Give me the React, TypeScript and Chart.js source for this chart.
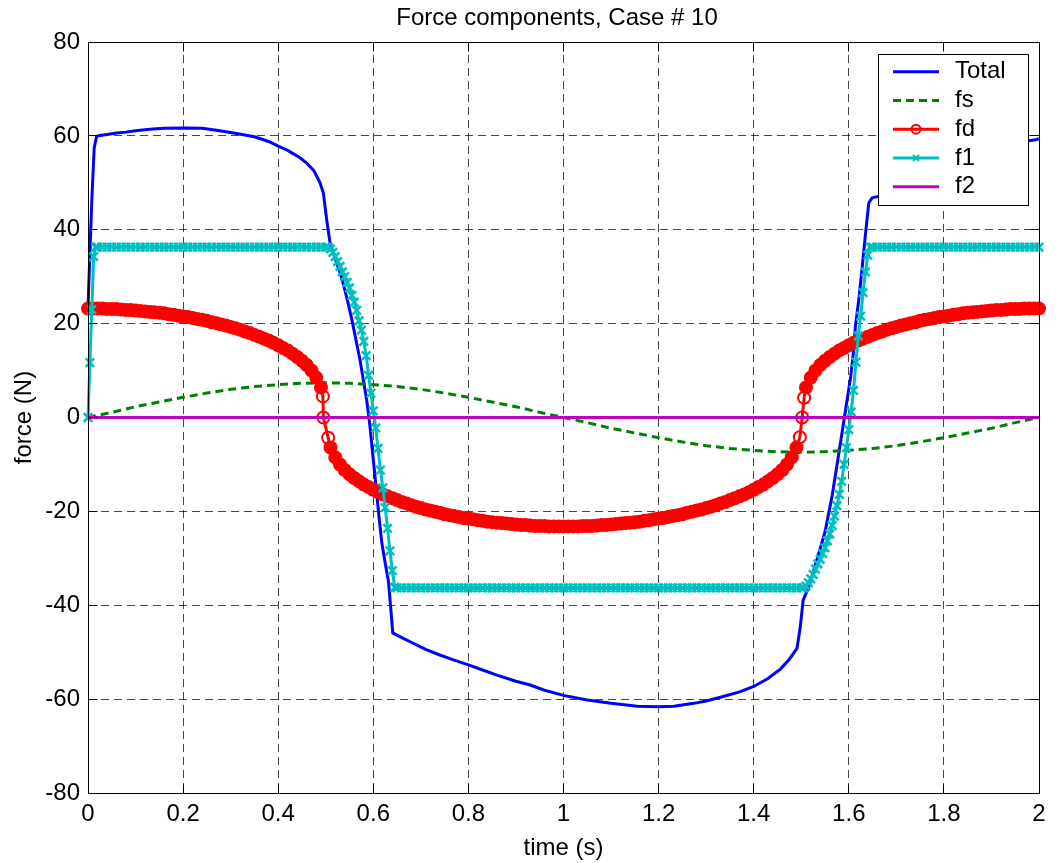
import React, { useEffect, useRef } from "react";
import { Chart, registerables } from "chart.js";

Chart.register(...registerables);

const FONT = '"Liberation Sans", Arial, Helvetica, sans-serif';
const WIDTH = 1056;
const HEIGHT = 863;

const titleText = "Force components, Case # 10";
const xAxisTitle = "time (s)";
const yAxisTitle = "force (N)";

const xTickValues = [0, 0.2, 0.4, 0.6, 0.8, 1, 1.2, 1.4, 1.6, 1.8, 2];
const xTickLabels = ["0", "0.2", "0.4", "0.6", "0.8", "1", "1.2", "1.4", "1.6", "1.8", "2"];
const yTickValues = [-80, -60, -40, -20, 0, 20, 40, 60, 80];
const yTickLabels = ["-80", "-60", "-40", "-20", "0", "20", "40", "60", "80"];

const seriesNames = ["Total", "fs", "fd", "f1", "f2"];

// Total force
const totalT = [
  0, 0.004, 0.008, 0.013, 0.018, 0.025, 0.04, 0.06, 0.08, 0.1,
  0.13, 0.16, 0.2, 0.24, 0.27, 0.3, 0.33, 0.35, 0.38, 0.4,
  0.42, 0.445, 0.46, 0.475, 0.488, 0.495, 0.502, 0.509, 0.52, 0.533,
  0.545, 0.555, 0.565, 0.572, 0.58, 0.586, 0.593, 0.6, 0.607, 0.612,
  0.618, 0.625, 0.632, 0.636, 0.641, 0.66, 0.684, 0.71, 0.74, 0.77,
  0.8, 0.83, 0.86, 0.9, 0.93, 0.96, 1, 1.05, 1.1, 1.155,
  1.2, 1.232, 1.274, 1.3, 1.33, 1.372, 1.4, 1.43, 1.456, 1.475,
  1.491, 1.498, 1.504, 1.516, 1.533, 1.55, 1.565, 1.576, 1.584, 1.591,
  1.604, 1.61, 1.614, 1.621, 1.628, 1.635, 1.642, 1.649, 1.663, 1.684,
  1.71, 1.74, 1.77, 1.8, 1.83, 1.86, 1.9, 1.93, 1.96, 1.975,
  1.99, 2,
];
const totalV = [
  23.4, 35.0, 46.2, 57.4, 59.9, 60.1, 60.3, 60.6, 60.8, 61.1,
  61.4, 61.6, 61.7, 61.6, 61.2, 60.7, 60.2, 59.8, 58.8, 57.8,
  56.9, 55.4, 54.2, 52.6, 50.0, 47.8, 42.1, 37.2, 33.8, 30.0,
  25.2, 20.8, 15.8, 12.3, 7.4, 3.8, -1.9, -9.0, -16.0, -21.2,
  -26.8, -31.0, -35.0, -39.8, -45.9, -46.9, -48.1, -49.4, -50.6, -51.7,
  -52.7, -53.8, -54.9, -56.2, -57.0, -58.1, -59.2, -60.2, -60.9, -61.5,
  -61.6, -61.5, -60.9, -60.4, -59.6, -58.4, -57.3, -55.6, -53.6, -51.5,
  -49.2, -44.6, -38.9, -36.0, -30.3, -24.4, -16.6, -9.6, -4.4, 0.2,
  8.7, 14.2, 19.5, 25.1, 31.8, 39.0, 45.7, 46.8, 47.1, 48.1,
  49.4, 50.6, 51.7, 52.7, 53.8, 54.9, 56.2, 57.0, 58.1, 58.9,
  59.1, 59.4,
];

// Spring force fs
const fsT = [
  0, 0.05, 0.1, 0.15, 0.2, 0.25, 0.3, 0.35, 0.4, 0.45,
  0.5, 0.55, 0.6, 0.65, 0.7, 0.75, 0.8, 0.85, 0.9, 0.95,
  1, 1.05, 1.1, 1.15, 1.2, 1.25, 1.3, 1.35, 1.4, 1.45,
  1.5, 1.55, 1.6, 1.65, 1.7, 1.75, 1.8, 1.85, 1.9, 1.95,
  2,
];
const fsV = [
  0, 1.1, 2.3, 3.3, 4.3, 5.2, 6.0, 6.6, 7.0, 7.3,
  7.4, 7.3, 7.0, 6.6, 6.0, 5.2, 4.3, 3.3, 2.3, 1.1,
  0, -1.1, -2.3, -3.3, -4.3, -5.2, -6.0, -6.6, -7.0, -7.3,
  -7.4, -7.3, -7.0, -6.6, -6.0, -5.2, -4.3, -3.3, -2.3, -1.1,
  0,
];

// Damping force fd
const fdT = [
  0, 0.01, 0.02, 0.03, 0.04, 0.05, 0.06, 0.07, 0.08, 0.09,
  0.1, 0.11, 0.12, 0.13, 0.14, 0.15, 0.16, 0.17, 0.18, 0.19,
  0.2, 0.21, 0.22, 0.23, 0.24, 0.25, 0.26, 0.27, 0.28, 0.29,
  0.3, 0.31, 0.32, 0.33, 0.34, 0.35, 0.36, 0.37, 0.38, 0.39,
  0.4, 0.41, 0.42, 0.43, 0.44, 0.45, 0.46, 0.47, 0.48, 0.49,
  0.494, 0.495, 0.505,
  0.51, 0.52, 0.53, 0.54, 0.55, 0.56, 0.57, 0.58, 0.59,
  0.6, 0.61, 0.62, 0.63, 0.64, 0.65, 0.66, 0.67, 0.68, 0.69,
  0.7, 0.71, 0.72, 0.73, 0.74, 0.75, 0.76, 0.77, 0.78, 0.79,
  0.8, 0.81, 0.82, 0.83, 0.84, 0.85, 0.86, 0.87, 0.88, 0.89,
  0.9, 0.91, 0.92, 0.93, 0.94, 0.95, 0.96, 0.97, 0.98, 0.99,
  1, 1.01, 1.02, 1.03, 1.04, 1.05, 1.06, 1.07, 1.08, 1.09,
  1.1, 1.11, 1.12, 1.13, 1.14, 1.15, 1.16, 1.17, 1.18, 1.19,
  1.2, 1.21, 1.22, 1.23, 1.24, 1.25, 1.26, 1.27, 1.28, 1.29,
  1.3, 1.31, 1.32, 1.33, 1.34, 1.35, 1.36, 1.37, 1.38, 1.39,
  1.4, 1.41, 1.42, 1.43, 1.44, 1.45, 1.46, 1.47, 1.48, 1.49,
  1.497, 1.502, 1.506,
  1.51, 1.52, 1.53, 1.54, 1.55, 1.56, 1.57, 1.58, 1.59,
  1.6, 1.61, 1.62, 1.63, 1.64, 1.65, 1.66, 1.67, 1.68, 1.69,
  1.7, 1.71, 1.72, 1.73, 1.74, 1.75, 1.76, 1.77, 1.78, 1.79,
  1.8, 1.81, 1.82, 1.83, 1.84, 1.85, 1.86, 1.87, 1.88, 1.89,
  1.9, 1.91, 1.92, 1.93, 1.94, 1.95, 1.96, 1.97, 1.98, 1.99,
  2,
];
const fdV = [
  23.2, 23.2, 23.2, 23.2, 23.1, 23.1, 23.1, 23.0, 22.9, 22.9,
  22.8, 22.7, 22.6, 22.5, 22.4, 22.3, 22.2, 22.0, 21.9, 21.7,
  21.5, 21.4, 21.2, 21.0, 20.8, 20.6, 20.3, 20.1, 19.8, 19.6,
  19.3, 19.0, 18.7, 18.3, 18.0, 17.6, 17.2, 16.8, 16.4, 15.9,
  15.4, 14.8, 14.3, 13.6, 12.9, 12.1, 11.2, 10.0, 8.5, 6.4,
  4.5, 0.0, -4.3,
  -6.4, -8.5, -10.0, -11.2, -12.1, -12.9, -13.6, -14.3, -14.8,
  -15.4, -15.9, -16.4, -16.8, -17.2, -17.6, -18.0, -18.3, -18.7, -19.0,
  -19.3, -19.6, -19.8, -20.1, -20.3, -20.6, -20.8, -21.0, -21.2, -21.4,
  -21.5, -21.7, -21.9, -22.0, -22.2, -22.3, -22.4, -22.5, -22.6, -22.7,
  -22.8, -22.9, -22.9, -23.0, -23.1, -23.1, -23.1, -23.2, -23.2, -23.2,
  -23.2, -23.2, -23.2, -23.2, -23.1, -23.1, -23.1, -23.0, -22.9, -22.9,
  -22.8, -22.7, -22.6, -22.5, -22.4, -22.3, -22.2, -22.0, -21.9, -21.7,
  -21.5, -21.4, -21.2, -21.0, -20.8, -20.6, -20.3, -20.1, -19.8, -19.6,
  -19.3, -19.0, -18.7, -18.3, -18.0, -17.6, -17.2, -16.8, -16.4, -15.9,
  -15.4, -14.8, -14.3, -13.6, -12.9, -12.1, -11.2, -10.0, -8.5, -6.4,
  -4.2, 0.0, 4.2,
  6.4, 8.5, 10.0, 11.2, 12.1, 12.9, 13.6, 14.3, 14.8,
  15.4, 15.9, 16.4, 16.8, 17.2, 17.6, 18.0, 18.3, 18.7, 19.0,
  19.3, 19.6, 19.8, 20.1, 20.3, 20.6, 20.8, 21.0, 21.2, 21.4,
  21.5, 21.7, 21.9, 22.0, 22.2, 22.3, 22.4, 22.5, 22.6, 22.7,
  22.8, 22.9, 22.9, 23.0, 23.1, 23.1, 23.1, 23.2, 23.2, 23.2,
  23.2,
];

// Component f1
const f1T = [
  0, 0.004, 0.008, 0.012, 0.016,
  0.02, 0.03, 0.04, 0.05, 0.06, 0.07, 0.08, 0.09,
  0.1, 0.11, 0.12, 0.13, 0.14, 0.15, 0.16, 0.17, 0.18, 0.19,
  0.2, 0.21, 0.22, 0.23, 0.24, 0.25, 0.26, 0.27, 0.28, 0.29,
  0.3, 0.31, 0.32, 0.33, 0.34, 0.35, 0.36, 0.37, 0.38, 0.39,
  0.4, 0.41, 0.42, 0.43, 0.44, 0.45, 0.46, 0.47, 0.48, 0.49,
  0.5, 0.505,
  0.51, 0.515, 0.52, 0.525, 0.53, 0.535, 0.54, 0.545, 0.55, 0.555,
  0.56, 0.565, 0.57, 0.575, 0.58, 0.585, 0.59, 0.595, 0.6, 0.605,
  0.61, 0.615, 0.62, 0.625, 0.63, 0.635, 0.64, 0.645,
  0.65, 0.66, 0.67, 0.68, 0.69,
  0.7, 0.71, 0.72, 0.73, 0.74, 0.75, 0.76, 0.77, 0.78, 0.79,
  0.8, 0.81, 0.82, 0.83, 0.84, 0.85, 0.86, 0.87, 0.88, 0.89,
  0.9, 0.91, 0.92, 0.93, 0.94, 0.95, 0.96, 0.97, 0.98, 0.99,
  1, 1.01, 1.02, 1.03, 1.04, 1.05, 1.06, 1.07, 1.08, 1.09,
  1.1, 1.11, 1.12, 1.13, 1.14, 1.15, 1.16, 1.17, 1.18, 1.19,
  1.2, 1.21, 1.22, 1.23, 1.24, 1.25, 1.26, 1.27, 1.28, 1.29,
  1.3, 1.31, 1.32, 1.33, 1.34, 1.35, 1.36, 1.37, 1.38, 1.39,
  1.4, 1.41, 1.42, 1.43, 1.44, 1.45, 1.46, 1.47, 1.48, 1.49,
  1.5, 1.505,
  1.51, 1.515, 1.52, 1.525, 1.53, 1.535, 1.54, 1.545, 1.55, 1.555,
  1.56, 1.565, 1.57, 1.575, 1.58, 1.585, 1.59, 1.595, 1.6, 1.605,
  1.61, 1.615, 1.62, 1.625, 1.63, 1.635, 1.64, 1.645,
  1.65, 1.66, 1.67, 1.68, 1.69,
  1.7, 1.71, 1.72, 1.73, 1.74, 1.75, 1.76, 1.77, 1.78, 1.79,
  1.8, 1.81, 1.82, 1.83, 1.84, 1.85, 1.86, 1.87, 1.88, 1.89,
  1.9, 1.91, 1.92, 1.93, 1.94, 1.95, 1.96, 1.97, 1.98, 1.99,
  2,
];
const f1V = [
  0, 11.7, 23.0, 34.3, 36.3,
  36.3, 36.3, 36.3, 36.3, 36.3, 36.3, 36.3, 36.3,
  36.3, 36.3, 36.3, 36.3, 36.3, 36.3, 36.3, 36.3, 36.3, 36.3,
  36.3, 36.3, 36.3, 36.3, 36.3, 36.3, 36.3, 36.3, 36.3, 36.3,
  36.3, 36.3, 36.3, 36.3, 36.3, 36.3, 36.3, 36.3, 36.3, 36.3,
  36.3, 36.3, 36.3, 36.3, 36.3, 36.3, 36.3, 36.3, 36.3, 36.3,
  36.3, 36.3,
  35.9, 35.2, 34.3, 33.2, 32.2, 31.0, 30.0, 28.8, 27.6, 26.0,
  24.6, 22.8, 20.6, 18.6, 16.2, 13.2, 9.0, 5.2, 1.4, -2.2,
  -6.6, -11.2, -15.0, -19.2, -23.6, -28.4, -32.6, -36.2,
  -36.3, -36.3, -36.3, -36.3, -36.3,
  -36.3, -36.3, -36.3, -36.3, -36.3, -36.3, -36.3, -36.3, -36.3, -36.3,
  -36.3, -36.3, -36.3, -36.3, -36.3, -36.3, -36.3, -36.3, -36.3, -36.3,
  -36.3, -36.3, -36.3, -36.3, -36.3, -36.3, -36.3, -36.3, -36.3, -36.3,
  -36.3, -36.3, -36.3, -36.3, -36.3, -36.3, -36.3, -36.3, -36.3, -36.3,
  -36.3, -36.3, -36.3, -36.3, -36.3, -36.3, -36.3, -36.3, -36.3, -36.3,
  -36.3, -36.3, -36.3, -36.3, -36.3, -36.3, -36.3, -36.3, -36.3, -36.3,
  -36.3, -36.3, -36.3, -36.3, -36.3, -36.3, -36.3, -36.3, -36.3, -36.3,
  -36.3, -36.3, -36.3, -36.3, -36.3, -36.3, -36.3, -36.3, -36.3, -36.3,
  -36.3, -36.3,
  -35.9, -35.2, -34.4, -33.4, -32.3, -31.2, -30.2, -29.0, -27.8, -26.3,
  -24.8, -23.0, -21.0, -18.8, -16.4, -13.6, -10.0, -6.4, -2.6, 1.2,
  5.8, 11.8, 17.4, 21.6, 26.6, 31.0, 34.6, 36.3,
  36.3, 36.3, 36.3, 36.3, 36.3,
  36.3, 36.3, 36.3, 36.3, 36.3, 36.3, 36.3, 36.3, 36.3, 36.3,
  36.3, 36.3, 36.3, 36.3, 36.3, 36.3, 36.3, 36.3, 36.3, 36.3,
  36.3, 36.3, 36.3, 36.3, 36.3, 36.3, 36.3, 36.3, 36.3, 36.3,
  36.3,
];

// Component f2
const f2T = [0, 1, 2];
const f2V = [0, 0, 0];

const COLORS = {
  total: "#0000ff",
  fs: "#008000",
  fd: "#ff0000",
  f1: "#00bfbf",
  f2: "#bf00bf",
};

const toPoints = (t: number[], v: number[]) => t.map((x, i) => ({ x, y: v[i] }));

const alignPx = (p: number) => Math.round(p - 0.5) + 0.5;

const legendEntries = [
  { name: seriesNames[0], color: COLORS.total, dash: [] as number[], marker: "none" },
  { name: seriesNames[1], color: COLORS.fs, dash: [8, 5], marker: "none" },
  { name: seriesNames[2], color: COLORS.fd, dash: [] as number[], marker: "circle" },
  { name: seriesNames[3], color: COLORS.f1, dash: [] as number[], marker: "cross" },
  { name: seriesNames[4], color: COLORS.f2, dash: [] as number[], marker: "none" },
];

const decorations = {
  id: "decorations",
  afterDraw(chart: any) {
    const { ctx, chartArea, scales } = chart;
    const { left, right, top, bottom } = chartArea;
    const xs = scales.x;
    const ys = scales.y;
    const L = alignPx(left);
    const R = alignPx(right);
    const T = alignPx(top);
    const B = alignPx(bottom);
    const tick = 9;

    ctx.save();
    ctx.setLineDash([]);
    ctx.strokeStyle = "#000";
    ctx.lineWidth = 1;

    // axes box
    ctx.strokeRect(L, T, R - L, B - T);

    // inward tick marks on all four sides
    ctx.beginPath();
    for (const v of xTickValues) {
      const px = alignPx(xs.getPixelForValue(v));
      ctx.moveTo(px, B);
      ctx.lineTo(px, B - tick);
      ctx.moveTo(px, T);
      ctx.lineTo(px, T + tick);
    }
    for (const v of yTickValues) {
      const py = alignPx(ys.getPixelForValue(v));
      ctx.moveTo(L, py);
      ctx.lineTo(L + tick, py);
      ctx.moveTo(R, py);
      ctx.lineTo(R - tick, py);
    }
    ctx.stroke();

    // titles
    ctx.fillStyle = "#000";
    ctx.font = `24px ${FONT}`;
    ctx.textAlign = "center";
    ctx.textBaseline = "alphabetic";
    ctx.fillText(titleText, 557, 25);
    ctx.fillText(xAxisTitle, (left + right) / 2, 855);
    ctx.save();
    ctx.translate(31, (top + bottom) / 2);
    ctx.rotate(-Math.PI / 2);
    ctx.fillText(yAxisTitle, 0, 0);
    ctx.restore();

    // legend
    const lx = 878.5;
    const ly = 54.5;
    const lw = 150;
    const lh = 151;
    ctx.fillStyle = "#fff";
    ctx.fillRect(lx, ly, lw, lh);
    ctx.strokeStyle = "#000";
    ctx.lineWidth = 1;
    ctx.strokeRect(lx, ly, lw, lh);

    legendEntries.forEach((entry, i) => {
      const yy = 71.7 + i * 28.75;
      ctx.save();
      ctx.strokeStyle = entry.color;
      ctx.lineWidth = 3;
      ctx.setLineDash(entry.dash);
      ctx.beginPath();
      ctx.moveTo(893, yy);
      ctx.lineTo(939, yy);
      ctx.stroke();
      ctx.setLineDash([]);
      if (entry.marker === "circle") {
        ctx.lineWidth = 2;
        ctx.beginPath();
        ctx.arc(916, yy, 4.5, 0, Math.PI * 2);
        ctx.stroke();
      } else if (entry.marker === "cross") {
        ctx.lineWidth = 2;
        ctx.beginPath();
        ctx.moveTo(913, yy - 3);
        ctx.lineTo(919, yy + 3);
        ctx.moveTo(919, yy - 3);
        ctx.lineTo(913, yy + 3);
        ctx.stroke();
      }
      ctx.restore();
      ctx.fillStyle = "#000";
      ctx.font = `24px ${FONT}`;
      ctx.textAlign = "left";
      ctx.textBaseline = "middle";
      ctx.fillText(entry.name, 955, yy);
    });

    ctx.restore();
  },
};

export default function App() {
  const canvasRef = useRef<HTMLCanvasElement | null>(null);

  useEffect(() => {
    const canvas = canvasRef.current;
    if (!canvas) return;

    const gridColor = "rgba(0,0,0,0.72)";
    const tickFont = { family: FONT, size: 24 };

    const chart = new Chart(canvas, {
      type: "line",
      data: {
        datasets: [
          {
            label: seriesNames[0],
            data: toPoints(totalT, totalV),
            borderColor: COLORS.total,
            borderWidth: 3,
            pointRadius: 0,
            order: 5,
            clip: false,
          },
          {
            label: seriesNames[1],
            data: toPoints(fsT, fsV),
            borderColor: COLORS.fs,
            borderWidth: 3,
            borderDash: [8, 5],
            pointRadius: 0,
            order: 4,
            clip: false,
          },
          {
            label: seriesNames[2],
            data: toPoints(fdT, fdV),
            borderColor: COLORS.fd,
            borderWidth: 3,
            pointStyle: "circle",
            pointRadius: 6,
            pointBorderWidth: 2,
            pointBorderColor: COLORS.fd,
            pointBackgroundColor: (c: any) =>
              c.raw && Math.abs(c.raw.y) < 5 ? "rgba(255,0,0,0)" : COLORS.fd,
            order: 3,
            clip: false,
          },
          {
            label: seriesNames[3],
            data: toPoints(f1T, f1V),
            borderColor: COLORS.f1,
            borderWidth: 3,
            pointStyle: "crossRot",
            pointRadius: 6,
            pointBorderWidth: 2.5,
            pointBorderColor: COLORS.f1,
            order: 2,
            clip: false,
          },
          {
            label: seriesNames[4],
            data: toPoints(f2T, f2V),
            borderColor: COLORS.f2,
            borderWidth: 3,
            pointRadius: 0,
            order: 1,
            clip: false,
          },
        ],
      },
      options: {
        animation: false,
        responsive: false,
        devicePixelRatio: 1,
        events: [],
        layout: { padding: { top: 42, right: 17, left: 0, bottom: 0 } },
        plugins: {
          legend: { display: false },
          title: { display: false },
          tooltip: { enabled: false },
        },
        scales: {
          x: {
            type: "linear",
            min: 0,
            max: 2,
            afterFit: (s: any) => {
              s.height = 70;
            },
            afterBuildTicks: (s: any) => {
              s.ticks = xTickValues.map((value) => ({ value }));
            },
            ticks: {
              autoSkip: false,
              maxRotation: 0,
              padding: 7,
              color: "#000",
              font: tickFont,
              callback: (_v: any, i: number) => xTickLabels[i],
            },
            grid: { color: gridColor, lineWidth: 1, drawTicks: false },
            border: { display: false, dash: [8, 5] },
          },
          y: {
            type: "linear",
            min: -80,
            max: 80,
            afterFit: (s: any) => {
              s.width = 88;
            },
            afterBuildTicks: (s: any) => {
              s.ticks = yTickValues.map((value) => ({ value }));
            },
            ticks: {
              autoSkip: false,
              padding: 8,
              color: "#000",
              font: tickFont,
              callback: (_v: any, i: number) => yTickLabels[i],
            },
            grid: { color: gridColor, lineWidth: 1, drawTicks: false },
            border: { display: false, dash: [8, 5] },
          },
        },
      },
      plugins: [decorations],
    } as any);

    return () => chart.destroy();
  }, []);

  return (
    <div
      style={{
        position: "absolute",
        left: 0,
        top: 0,
        width: WIDTH,
        height: HEIGHT,
        background: "#fff",
      }}
    >
      <canvas ref={canvasRef} width={WIDTH} height={HEIGHT} style={{ display: "block" }} />
    </div>
  );
}
